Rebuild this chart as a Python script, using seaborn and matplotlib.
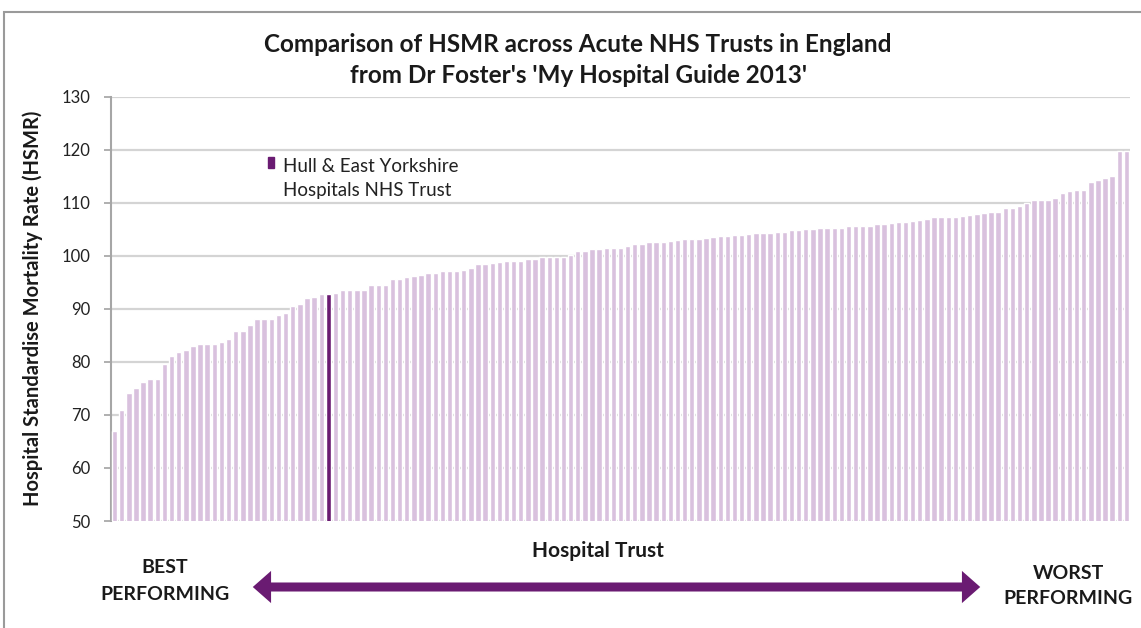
import matplotlib
matplotlib.use("Agg")
import matplotlib.pyplot as plt
import seaborn as sns
import pandas as pd
from matplotlib.patches import Rectangle, FancyArrowPatch

# ---- data ----
hsmr = [
    67.0, 70.9, 74.2, 75.0, 76.2, 76.7, 76.7, 79.6, 81.2, 81.9,
    82.3, 83.1, 83.4, 83.4, 83.4, 83.8, 84.3, 85.8, 85.8, 87.0,
    88.1, 88.1, 88.1, 88.9, 89.2, 90.6, 91.0, 92.0, 92.3, 92.8,
    92.8, 93.1, 93.5, 93.5, 93.5, 93.5, 94.5, 94.5, 94.5, 95.6,
    95.6, 96.1, 96.3, 96.4, 96.7, 96.8, 97.1, 97.2, 97.2, 97.4,
    97.8, 98.5, 98.5, 98.7, 98.9, 99.0, 99.0, 99.1, 99.4, 99.4,
    99.8, 99.9, 99.9, 99.9, 100.1, 100.9, 101.0, 101.3, 101.3, 101.5,
    101.6, 101.6, 101.8, 102.3, 102.3, 102.6, 102.6, 102.7, 102.9, 103.0,
    103.3, 103.3, 103.3, 103.4, 103.6, 103.7, 103.7, 103.9, 103.9, 104.2,
    104.3, 104.3, 104.4, 104.6, 104.6, 104.9, 104.9, 105.0, 105.0, 105.2,
    105.2, 105.3, 105.3, 105.6, 105.6, 105.6, 105.6, 106.0, 106.1, 106.3,
    106.4, 106.4, 106.6, 106.7, 106.9, 107.3, 107.3, 107.4, 107.4, 107.6,
    107.75, 107.9, 108.2, 108.3, 108.3, 109.1, 109.1, 109.5, 110.0, 110.5,
    110.6, 110.6, 110.9, 111.9, 112.2, 112.5, 112.5, 114.0, 114.3, 114.7,
    115.0, 119.9, 119.9,
]
trusts = [f"Trust {i + 1}" for i in range(len(hsmr))]
highlight_trust = "Trust 31"
highlight_name = "Hull & East Yorkshire\nHospitals NHS Trust"
y_ticks = [50, 60, 70, 80, 90, 100, 110, 120, 130]

title = "Comparison of HSMR across Acute NHS Trusts in England\nfrom Dr Foster's 'My Hospital Guide 2013'"
y_label = "Hospital Standardise Mortality Rate (HSMR)"
x_label = "Hospital Trust"

# ---- style ----
LIGHT = "#D9C1DE"
DARK = "#6A1B72"
FONT = ["Lato", "DejaVu Sans"]

sns.set_theme(style="white")
plt.rcParams["font.family"] = FONT

df = pd.DataFrame({"trust": trusts, "hsmr": hsmr})
df["group"] = ["Hull" if t == highlight_trust else "Other" for t in trusts]

fig = plt.figure(figsize=(11.41, 6.28), dpi=100)
ax = fig.add_axes([111 / 1141, 1 - 521 / 628, (1130 - 111) / 1141, (521 - 97) / 628])

sns.barplot(data=df, x="trust", y="hsmr", hue="group",
            palette={"Hull": DARK, "Other": LIGHT}, dodge=False,
            width=0.76, legend=False, ax=ax, saturation=1, zorder=3)

ax.set_ylim(50, 130)
ax.set_xlim(-0.5, len(hsmr) - 0.5)
ax.set_yticks(y_ticks)
ax.set_yticklabels([str(v) for v in y_ticks], fontsize=12, color="#222222")
ax.set_xticks([])
ax.set_xlabel("")
ax.set_ylabel("")
ax.yaxis.grid(True, color="#D4D4D4", linewidth=1.6, zorder=0)
ax.set_axisbelow(True)
for s in ["top", "right", "bottom"]:
    ax.spines[s].set_visible(False)
ax.spines["left"].set_color("#A6A6A6")
ax.spines["left"].set_linewidth(1.5)
ax.tick_params(axis="y", length=5, color="#A6A6A6", pad=10, left=True)

# outer chart border
fig.patches.append(Rectangle((4 / 1141, -0.05), 1.2, 1 - 12 / 628 + 0.05,
                             transform=fig.transFigure, fill=False,
                             edgecolor="#9A9A9A", linewidth=1.5))

# title
fig.text(578 / 1141, 1 - 60 / 628, title, ha="center", va="center",
         fontsize=17.5, fontweight="bold", color="#1a1a1a", linespacing=1.45)

# y label
fig.text(33 / 1141, 1 - 308 / 628, y_label, rotation=90, ha="center", va="center",
         fontsize=14.5, fontweight="bold", color="#1a1a1a")

# legend-like annotation
fig.patches.append(Rectangle((268 / 1141, 1 - 168 / 628), 6 / 1141, 11 / 628,
                             transform=fig.transFigure, color=DARK))
fig.text(283 / 1141, 1 - 178 / 628, highlight_name, ha="left", va="center",
         fontsize=13.5, color="#222222", linespacing=1.5)

# x label and arrows
fig.text(598 / 1141, 1 - 551 / 628, x_label, ha="center", va="center",
         fontsize=15, fontweight="bold", color="#1a1a1a")
fig.text(165 / 1141, 1 - 581 / 628, "BEST\nPERFORMING", ha="center", va="center",
         fontsize=14, fontweight="bold", color="#1a1a1a", linespacing=1.65)
fig.text(1068 / 1141, 1 - 586 / 628, "WORST\nPERFORMING", ha="center", va="center",
         fontsize=14, fontweight="bold", color="#1a1a1a", linespacing=1.6)

arrow = FancyArrowPatch((250 / 1141, 1 - 587 / 628), (983 / 1141, 1 - 587 / 628),
                        transform=fig.transFigure,
                        arrowstyle="<|-|>,head_length=0.25,head_width=0.22",
                        mutation_scale=20, linewidth=6.5, color=DARK,
                        joinstyle="miter", capstyle="butt")
fig.patches.append(arrow)

fig.savefig("out.png", dpi=100)
